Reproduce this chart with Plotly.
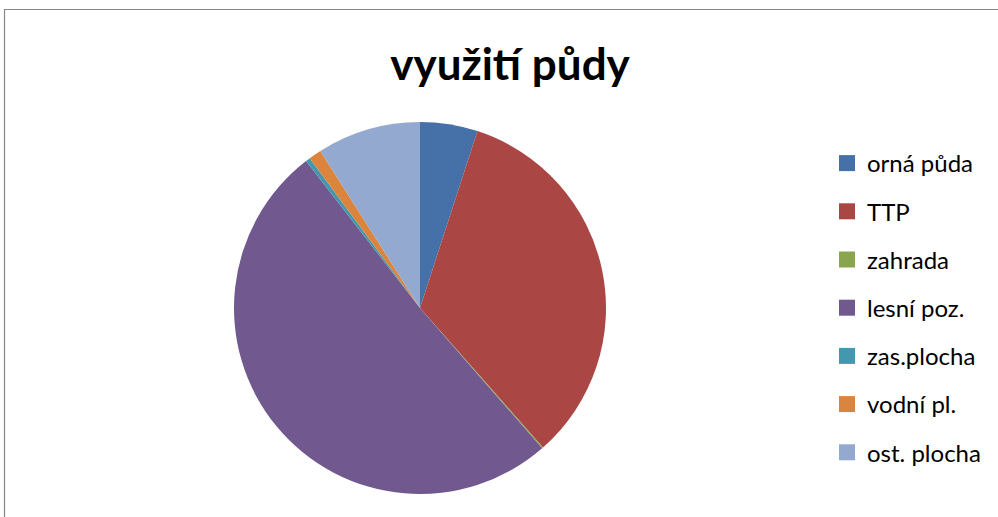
import plotly.graph_objects as go

labels = ["orná půda", "TTP", "zahrada", "lesní poz.", "zas.plocha", "vodní pl.", "ost. plocha"]
values = [5.0, 33.5, 0.1, 50.9, 0.4, 1.1, 9.0]
colors = ["#4571A8", "#AA4644", "#89A54E", "#71588F", "#4198AF", "#DB843D", "#93A9CF"]
title_text = "využití půdy"

W, H = 998, 517


def px(x):
    return x / W


def py(y):
    return (H - y) / H


fig = go.Figure()
fig.add_trace(go.Pie(
    labels=labels, values=values, sort=False, direction="clockwise", rotation=0,
    marker=dict(colors=colors, line=dict(width=0)),
    textinfo="none", hoverinfo="label+percent", showlegend=False,
    domain=dict(x=[px(234), px(606)], y=[py(494), py(122)]),
))
# legend entries (one group per slice for spacing)
for lab, col in zip(labels, colors):
    fig.add_trace(go.Scatter(
        x=[None], y=[None], mode="markers", name=lab, legendgroup=lab,
        marker=dict(symbol="square", size=16, color=col),
        hoverinfo="skip",
    ))

fig.update_layout(
    width=W, height=H,
    margin=dict(l=0, r=0, t=0, b=0),
    paper_bgcolor="white", plot_bgcolor="white",
    font=dict(family="Lato, 'Open Sans', sans-serif", color="#000000"),
    title=dict(text="<b>" + title_text + "</b>", x=px(510), xanchor="center",
               y=py(65), yanchor="middle", font=dict(size=44, color="#000000")),
    xaxis=dict(visible=False), yaxis=dict(visible=False),
    legend=dict(x=px(827), xanchor="left", y=py(141), yanchor="top",
                font=dict(size=24, color="#000000"), tracegroupgap=14,
                itemsizing="trace", bgcolor="rgba(0,0,0,0)"),
    shapes=[dict(type="rect", xref="paper", yref="paper",
                 x0=px(4.5), x1=1.02, y0=-0.02, y1=py(9.5),
                 line=dict(color="#868686", width=1.2), fillcolor="rgba(0,0,0,0)",
                 layer="below")],
)
fig.write_html("out.html", config={"displayModeBar": False},
               post_script="document.body.style.margin='0';")
